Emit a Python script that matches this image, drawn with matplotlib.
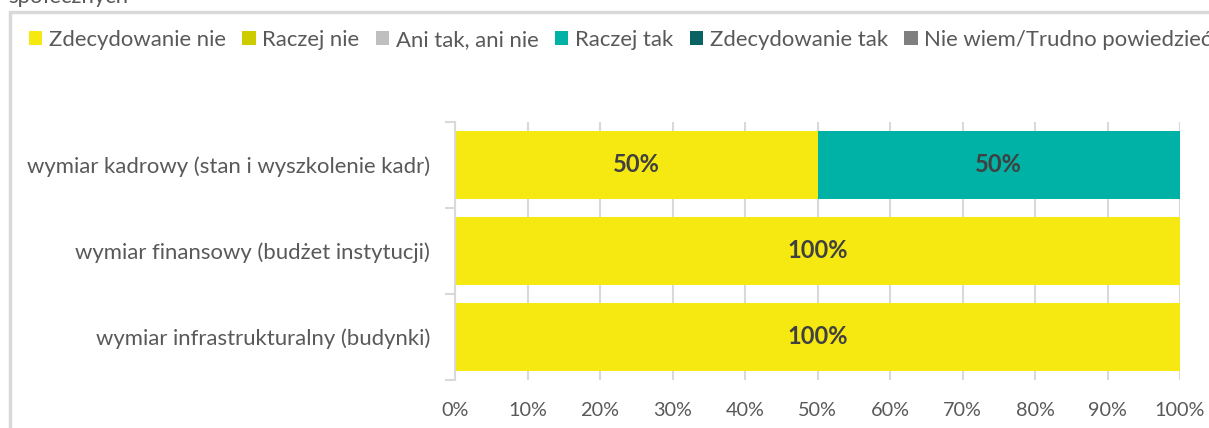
import numpy as np
import matplotlib.pyplot as plt
import matplotlib.patches as patches
from matplotlib.ticker import FixedLocator, PercentFormatter

plt.rcParams['font.family'] = ['Lato', 'DejaVu Sans']

categories = ['wymiar kadrowy (stan i wyszkolenie kadr)',
              'wymiar finansowy (budżet instytucji)',
              'wymiar infrastrukturalny (budynki)']
series_names = ['Zdecydowanie nie', 'Raczej nie', 'Ani tak, ani nie',
                'Raczej tak', 'Zdecydowanie tak', 'Nie wiem/Trudno powiedzieć']
zdecydowanie_nie = [50, 100, 100]
raczej_nie = [0, 0, 0]
ani_tak_ani_nie = [0, 0, 0]
raczej_tak = [50, 0, 0]
zdecydowanie_tak = [0, 0, 0]
nie_wiem = [0, 0, 0]
x_ticks = [0, 10, 20, 30, 40, 50, 60, 70, 80, 90, 100]

colors = ['#F6E912', '#CCCC00', '#BFBFBF', '#00B2A6', '#0B6262', '#7F7F7F']
text_grey = '#595959'
line_grey = '#D9D9D9'

values = [zdecydowanie_nie, raczej_nie, ani_tak_ani_nie,
          raczej_tak, zdecydowanie_tak, nie_wiem]

fig = plt.figure(figsize=(12.09, 4.28), dpi=100)
ax = fig.add_axes([455 / 1209, 48 / 428, 725 / 1209, 258 / 428])

y_pos = np.arange(len(categories))[::-1]
left = np.zeros(len(categories))
handles = []
for name, vals, col in zip(series_names, values, colors):
    vals = np.array(vals, dtype=float)
    bars = ax.barh(y_pos, vals, left=left, height=0.78, color=col, label=name, zorder=2)
    handles.append(bars)
    for b, v in zip(bars, vals):
        if v > 0:
            ax.text(b.get_x() + b.get_width() / 2, b.get_y() + b.get_height() / 2,
                    f'{v:.0f}%', ha='center', va='center', fontsize=17,
                    fontweight='bold', color='#404040', zorder=3)
    left += vals

ax.set_xlim(0, 100)
ax.set_ylim(-0.5, len(categories) - 0.5)
ax.xaxis.set_major_locator(FixedLocator(x_ticks))
ax.xaxis.set_major_formatter(PercentFormatter(decimals=0))
ax.grid(axis='x', color=line_grey, linewidth=1.5, zorder=0)
ax.set_axisbelow(True)
ax.tick_params(axis='x', length=0, pad=16, labelsize=14.3, labelcolor=text_grey)

ax.set_yticks(y_pos)
ax.set_yticklabels(categories)
ax.set_yticks(np.arange(-0.5, len(categories)), minor=True)
ax.tick_params(axis='y', which='major', length=0, pad=18, labelsize=15.9, labelcolor=text_grey)
ax.tick_params(axis='y', which='minor', length=7, width=1.5, color=line_grey)

for s in ['top', 'right', 'bottom']:
    ax.spines[s].set_visible(False)
ax.spines['left'].set_color(line_grey)
ax.spines['left'].set_linewidth(1.5)

# outer chart frame (cut off on the right and bottom)
frame = patches.Rectangle((10 / 1209, -0.1), 1.2, 1 - 12 / 428 + 0.1,
                          transform=fig.transFigure, fill=False,
                          edgecolor=line_grey, linewidth=2.5, zorder=0)
fig.patches.append(frame)

fig.text(8 / 1209, 1 - 3 / 428, 'społecznych', ha='left', va='baseline',
         fontsize=15.9, color=text_grey)

fig.legend(handles=handles, labels=series_names, loc='center left',
           bbox_to_anchor=(29 / 1209, 1 - 40 / 428), ncol=6, frameon=False,
           fontsize=15.9, labelcolor=text_grey, handlelength=0.6,
           handleheight=0.6, handletextpad=0.3, columnspacing=0.75,
           borderaxespad=0, borderpad=0)

fig.savefig('out.png', dpi=100)
